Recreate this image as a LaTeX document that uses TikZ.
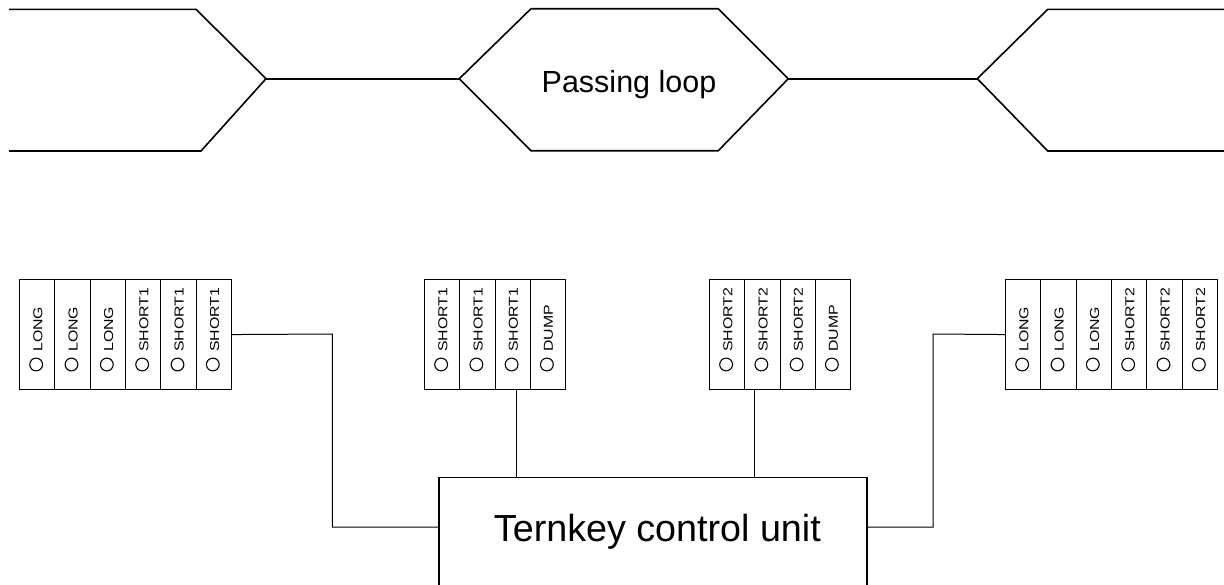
\documentclass[tikz,border=0pt]{standalone}
\usepackage{fontspec}
\setmainfont{Liberation Sans}
\begin{document}
\begin{tikzpicture}[x=1pt,y=-1pt,
  track/.style={line width=1.6pt,line join=miter},
  wire/.style={line width=1pt},
  slot/.style={draw,line width=1.1pt,rectangle,minimum height=110pt,inner sep=0pt,anchor=north west},
  keytxt/.style={rotate=90,anchor=west,inner sep=0pt},
  lamp/.style={line width=1.1pt},
  unit/.style={draw,line width=1.4pt,rectangle,minimum width=428pt,minimum height=140pt,anchor=north,inner sep=0pt}
]
\useasboundingbox (0,0) rectangle (1224,584);
% ---------- track ----------
\draw[track] (9,9.3) -- (196,9.3) -- (266,78.7) -- (201,151) -- (9,151);
\draw[track] (266,78.7) -- (459.3,78.7);
\draw[track] (459.3,78.7) -- (531,8.7) -- (718.3,8.7) -- (788.3,78.7) -- (718.3,150.7) -- (531,150.7) -- cycle;
\draw[track] (788.3,78.7) -- (977.3,78.7);
\draw[track] (1230,9.3) -- (1047.7,9.3) -- (977.3,78.7) -- (1047.7,151) -- (1230,151);
\node[anchor=base,inner sep=0pt,font=\fontsize{30.5}{34}\selectfont] (loop) at (629,92.7) {Passing loop};
% ---------- key panels ----------
\newcommand{\keyslot}[4]{% name, x, width, label
  \node[slot,minimum width=#3 pt] (#1) at (#2,279) {};
  \draw[lamp] (#2+#3/2-0.5,364.5) circle[radius=6.4];
  \node[keytxt] (#1t) at (#2+#3/2+1.2,352) {\scalebox{1.22}[1]{\fontsize{13}{15}\selectfont #4}};
}
% left panel
\keyslot{A1}{19}{35.33}{LONG}
\keyslot{A2}{54.33}{35.33}{LONG}
\keyslot{A3}{89.67}{35.33}{LONG}
\keyslot{A4}{125}{35.33}{SHORT1}
\keyslot{A5}{160.33}{35.33}{SHORT1}
\keyslot{A6}{195.67}{35.33}{SHORT1}
% middle-left panel
\keyslot{B1}{424}{35.25}{SHORT1}
\keyslot{B2}{459.25}{35.25}{SHORT1}
\keyslot{B3}{494.5}{35.25}{SHORT1}
\keyslot{B4}{529.75}{35.25}{DUMP}
% middle-right panel
\keyslot{C1}{709}{35.25}{SHORT2}
\keyslot{C2}{744.25}{35.25}{SHORT2}
\keyslot{C3}{779.5}{35.25}{SHORT2}
\keyslot{C4}{814.75}{35.25}{DUMP}
% right panel
\keyslot{D1}{1005}{35.33}{LONG}
\keyslot{D2}{1040.33}{35.33}{LONG}
\keyslot{D3}{1075.67}{35.33}{LONG}
\keyslot{D4}{1111}{35.33}{SHORT2}
\keyslot{D5}{1146.33}{35.33}{SHORT2}
\keyslot{D6}{1181.67}{35.33}{SHORT2}
% ---------- control unit ----------
\node[unit] (ctrl) at (653,477) {};
\node[anchor=base,inner sep=0pt,font=\fontsize{37.7}{42}\selectfont] (ctrltxt) at (657.4,541.7) {Ternkey control unit};
% ---------- wiring ----------
\draw[wire] (A6.east) -- (332.3,334) |- (ctrl.west |- 0,527);
\draw[wire] (D1.west) -- (933,334) |- (ctrl.east |- 0,527);
\draw[wire] (B3.south -| 516.7,0) -- (ctrl.north -| 516.7,0);
\draw[wire] (C2.south -| 754.3,0) -- (ctrl.north -| 754.3,0);
\end{tikzpicture}
\end{document}
